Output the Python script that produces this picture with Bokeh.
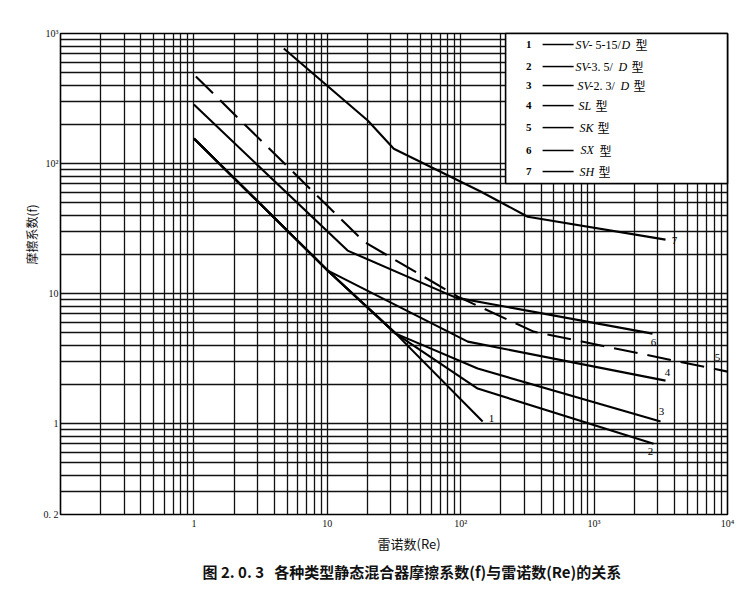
import math
from bokeh.plotting import figure
from bokeh.models import FixedTicker, Title, ColumnDataSource
from bokeh.core.properties import value
from bokeh.embed import file_html
from bokeh.resources import INLINE

# ---------------- data: Reynolds number (Re) vs friction factor (f) ----------------
re_sv515 = [1.0, 10.1, 32.6, 146]
f_sv515 = [156, 15.0, 4.92, 1.04]

re_sv35 = [1.0, 10.1, 32.6, 134, 2790]
f_sv35 = [156, 15.0, 4.92, 1.86, 0.70]

re_sv23 = [1.0, 10.1, 32.6, 134, 3150]
f_sv23 = [156, 15.0, 4.92, 2.65, 1.04]

re_sl = [1.0, 10.1, 113, 3430]
f_sl = [156, 15.0, 4.27, 2.14]

re_sk = [1.035, 18.8, 95, 352, 10000]
f_sk = [467, 25.1, 9.48, 5.1, 2.51]

re_sx = [1.0, 14.2, 91.8, 2740]
f_sx = [284, 21.4, 9.31, 4.92]

re_sh = [4.72, 20.1, 31.5, 141, 318, 3430]
f_sh = [767, 214, 130, 61, 39, 26]

curve_names = ["1", "2", "3", "4", "5", "6", "7"]

x_ticks = [1, 10, 100, 1000, 10000]
x_tick_labels = ["1", "10", "10²", "10³", "10⁴"]
y_ticks = [0.2, 1, 10, 100, 1000]
y_tick_labels = ["0. 2", "1", "10", "10²", "10³"]

x_title = "雷诺数(Re)"
y_title = "摩擦系数(f)"
caption = "图 2. 0. 3\u00a0\u00a0\u00a0各种类型静态混合器摩擦系数(f)与雷诺数(Re)的关系"

# legend rows: list of (text piece, italic?, pixel offset)
legend_rows = [
    [("SV", True, 0), ("- 5-15/", False, 13), ("D", True, 46), ("型", False, 60)],
    [("SV", True, 0), ("-3. 5/", False, 12), ("D", True, 43), ("型", False, 56)],
    [("SV", True, 2), ("-2. 3/", False, 14), ("D", True, 45), ("型", False, 58)],
    [("SL", True, 3), ("型", False, 20)],
    [("SK", True, 4), ("型", False, 22)],
    [("SX", True, 5), ("型", False, 24)],
    [("SH", True, 4), ("型", False, 23)],
]

# ---------------- figure ----------------
p = figure(width=737, height=596, x_axis_type="log", y_axis_type="log",
           x_range=(0.1, 10000), y_range=(0.2, 1000),
           output_backend="svg", toolbar_location=None,
           min_border_left=60, min_border_right=10,
           min_border_top=33, min_border_bottom=82)
p.background_fill_color = "white"
p.border_fill_color = "white"
p.outline_line_color = "black"
p.outline_line_width = 1.6

# grid at every 1..9 x 10^k
gx = [m * 10.0 ** k for k in range(-1, 4) for m in range(1, 10)] + [10000]
gy = [m * 10.0 ** k for k in range(-1, 3) for m in range(1, 10) if m * 10.0 ** k >= 0.2] + [1000]
p.xgrid.ticker = FixedTicker(ticks=gx)
p.ygrid.ticker = FixedTicker(ticks=gy)
for g in (p.xgrid, p.ygrid):
    g.grid_line_color = "#111111"
    g.grid_line_width = 1.3
    g.grid_line_alpha = 1.0

p.xaxis.ticker = FixedTicker(ticks=x_ticks)
p.xaxis.major_label_overrides = {t: l for t, l in zip(x_ticks, x_tick_labels)}
p.yaxis.ticker = FixedTicker(ticks=y_ticks)
p.yaxis.major_label_overrides = {t: l for t, l in zip(y_ticks, y_tick_labels)}
for ax in (p.xaxis, p.yaxis):
    ax.axis_line_color = None
    ax.major_tick_line_color = None
    ax.minor_tick_line_color = None
    ax.major_tick_out = 0
    ax.major_tick_in = 0
    ax.minor_tick_out = 0
    ax.minor_tick_in = 0
    ax.major_label_text_font = "Liberation Serif"
    ax.major_label_text_font_size = "10px"
    ax.major_label_text_color = "#111111"
p.xaxis.major_label_standoff = 3
p.yaxis.major_label_standoff = 2

# ---------------- curves ----------------
series = [
    (curve_names[0], re_sv515, f_sv515, "solid", 9, -3),
    (curve_names[1], re_sv35, f_sv35, "solid", -3, 8),
    (curve_names[2], re_sv23, f_sv23, "solid", 1, -10),
    (curve_names[3], re_sl, f_sl, "solid", 2, -8),
    (curve_names[4], re_sk, f_sk, "24 10", -10, -14),
    (curve_names[5], re_sx, f_sx, "solid", 1, 9),
    (curve_names[6], re_sh, f_sh, "solid", 9, 1),
]
for name, xs, ys, dash, dx, dy in series:
    p.line(xs, ys, line_color="black", line_width=2.1, line_dash=dash)
    p.text(x=[xs[-1]], y=[ys[-1]], text=[name], x_offset=dx, y_offset=dy,
           text_font=value("Liberation Serif"), text_font_size="11px",
           text_align="center", text_baseline="middle", text_color="black")

# ---------------- legend box (drawn on top) ----------------
leg_left, leg_bottom = 217, 70.2
leg_num_x, leg_line_x0, leg_line_x1 = 323, 411, 702
leg_y = [823, 557, 398, 279, 189, 126, 86.8]

p.quad(left=[leg_left], right=[10000], bottom=[leg_bottom], top=[1000],
       fill_color="white", line_color="black", line_width=1.6, level="overlay")
p.segment(x0=[leg_line_x0] * 7, y0=leg_y, x1=[leg_line_x1] * 7, y1=leg_y,
          line_color="black", line_width=1.5, level="overlay")
p.text(x=[leg_num_x] * 7, y=leg_y, text=curve_names,
       text_font=value("Liberation Serif"), text_font_size="11px", text_font_style="bold",
       text_align="center", text_baseline="middle", level="overlay")

px_, py_, pt_, po_, pf_, ps_ = [], [], [], [], [], []
for row, yv in zip(legend_rows, leg_y):
    for txt, ital, off in row:
        px_.append(leg_line_x1)
        py_.append(yv)
        pt_.append(txt)
        po_.append(off + 2)
        if txt == "型":
            pf_.append("Noto Sans CJK SC")
            ps_.append("normal")
        else:
            pf_.append("Liberation Serif")
            ps_.append("italic" if ital else "normal")
src = ColumnDataSource(dict(x=px_, y=py_, text=pt_, xo=po_, font=pf_, style=ps_))
p.text(x="x", y="y", text="text", x_offset="xo", text_font="font", text_font_style="style",
       text_font_size="12px", text_align="left", text_baseline="middle",
       source=src, level="overlay")

# ---------------- titles ----------------
p.add_layout(Title(text=y_title, align="left", offset=250, standoff=2,
                   text_font="Noto Sans CJK SC", text_font_size="12px",
                   text_font_style="normal", text_color="#111111"), "left")
p.add_layout(Title(text=x_title, align="left", offset=317, standoff=0,
                   text_font="Noto Sans CJK SC", text_font_size="13px",
                   text_font_style="normal", text_color="#111111"), "below")
p.add_layout(Title(text=caption, align="left", offset=142, standoff=13,
                   text_font="Noto Sans CJK SC", text_font_size="15px",
                   text_font_style="bold", text_color="#111111"), "below")

open("out.html", "w").write(file_html(p, INLINE))
